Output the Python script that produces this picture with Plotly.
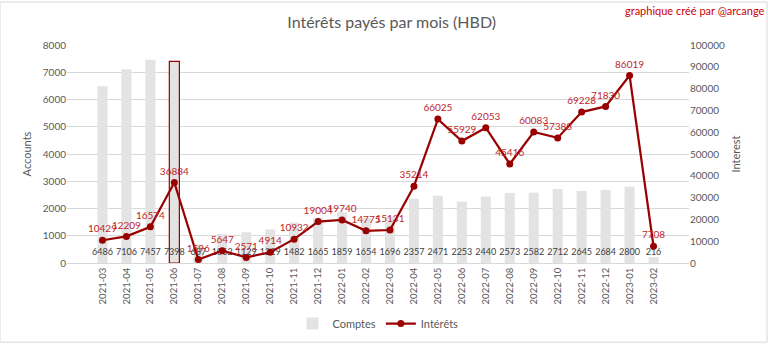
import plotly.graph_objects as go

months = ["2021-03","2021-04","2021-05","2021-06","2021-07","2021-08","2021-09","2021-10",
          "2021-11","2021-12","2022-01","2022-02","2022-03","2022-04","2022-05","2022-06",
          "2022-07","2022-08","2022-09","2022-10","2022-11","2022-12","2023-01","2023-02"]
comptes = [6486, 7106, 7457, 7398, 687, 1062, 1129, 1229, 1482, 1665, 1859, 1654, 1696,
           2357, 2471, 2253, 2440, 2573, 2582, 2712, 2645, 2684, 2800, 216]
interets = [10429, 12209, 16574, 36884, 1596, 5647, 2571, 4914, 10932, 19004, 19740, 14775,
            15131, 35214, 66025, 55929, 62053, 45416, 60083, 57388, 69228, 71830, 86019, 7708]
highlight_month = "2021-06"

GRAY = "#595959"
RED_LINE = "#990000"
RED_TXT = "#c0262c"
FONT = "Lato"

line_colors = [RED_LINE if m == highlight_month else "rgba(0,0,0,0)" for m in months]
line_widths = [1.2 if m == highlight_month else 0 for m in months]

fig = go.Figure()
fig.add_trace(go.Bar(
    x=months, y=comptes, name="Comptes", width=0.42,
    marker=dict(color="#e3e3e3", line=dict(color=line_colors, width=line_widths)),
    yaxis="y", hoverinfo="x+y",
))
# count labels near the base of the bars
fig.add_trace(go.Scatter(
    x=months, y=[370] * len(months), mode="text", text=[str(v) for v in comptes],
    textfont=dict(size=9, color="#404040", family=FONT), showlegend=False, yaxis="y",
    hoverinfo="skip",
))
fig.add_trace(go.Scatter(
    x=months, y=interets, name="Intérêts", mode="lines+markers+text",
    line=dict(color=RED_LINE, width=2.2), marker=dict(color=RED_LINE, size=7),
    text=[str(v) for v in interets], textposition="top center",
    textfont=dict(size=10, color=RED_TXT, family=FONT), yaxis="y2",
))

fig.update_layout(
    width=768, height=350,
    margin=dict(l=67, r=79, t=45, b=82),
    paper_bgcolor="white", plot_bgcolor="white",
    font=dict(family=FONT, color=GRAY, size=10),
    title=dict(text="Intérêts payés par mois (HBD)", x=0.51, xanchor="center", y=0.935,
               yanchor="middle", font=dict(size=16, color=GRAY, family=FONT)),
    xaxis=dict(type="category", tickangle=-90, tickfont=dict(size=9.5, color=GRAY),
               showgrid=False, showline=True, linecolor="#d9d9d9", ticks="",
               automargin=False),
    yaxis=dict(range=[0, 8000], dtick=1000, gridcolor="#d9d9d9", gridwidth=1,
               tickfont=dict(size=10, color=GRAY), zeroline=False, automargin=False,
               title=dict(text="Accounts", font=dict(size=11, color=GRAY), standoff=8)),
    yaxis2=dict(range=[0, 100000], dtick=10000, overlaying="y", side="right",
                showgrid=False, zeroline=False, tickfont=dict(size=10, color=GRAY),
                tickformat="d", automargin=False,
                title=dict(text="Interest", font=dict(size=11, color=GRAY), standoff=8)),
    legend=dict(orientation="h", x=0.5, xanchor="center", y=-0.278, yanchor="middle",
                font=dict(size=11, color=GRAY), traceorder="normal"),
    bargap=0.5, showlegend=True,
    shapes=[dict(type="rect", xref="paper", yref="paper", x0=-67/622, x1=1+78/622,
                 y0=-81/223, y1=1+44/223, line=dict(color="#d9d9d9", width=1))],
    annotations=[dict(text="graphique créé par @arcange", xref="paper", yref="paper",
                      x=1+78/622, y=1+35/223, xanchor="right", yanchor="middle",
                      showarrow=False, font=dict(size=11, color="#cc0000", family=FONT))],
)

fig.write_html("out.html")
